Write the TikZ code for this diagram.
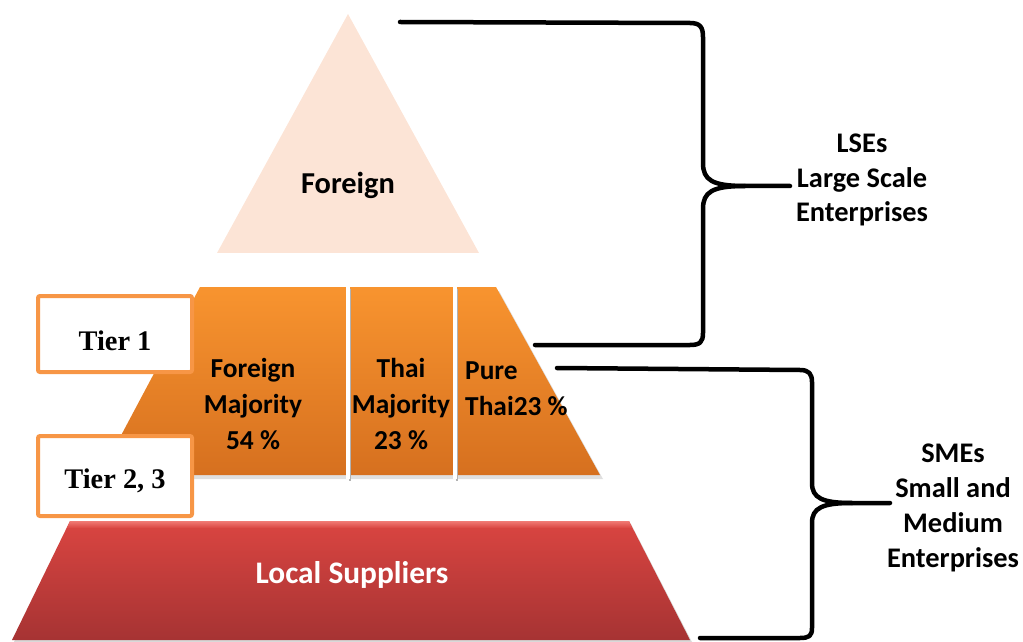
\documentclass[tikz,border=0pt]{standalone}
\usepackage{fontspec}
\newfontfamily\calib{Carlito}
\newfontfamily\timesf{Liberation Serif}
\definecolor{peach}{HTML}{FCE4D6}
\definecolor{orangetop}{HTML}{F8942F}
\definecolor{orangebot}{HTML}{D6701F}
\definecolor{redtop}{HTML}{DA4541}
\definecolor{redbot}{HTML}{A63333}
\definecolor{redhi}{HTML}{F07A74}
\definecolor{tierorange}{HTML}{F79646}
\begin{document}
\begin{tikzpicture}[x=1bp,y=-1bp,
  lbl/.style={font=\calib\bfseries\fontsize{27.5}{36.5}\selectfont, align=center, inner sep=0, text=black},
  sidelbl/.style={font=\calib\bfseries\fontsize{28.5}{35}\selectfont, align=center, inner sep=0, text=black},
  tierbox/.style={draw=tierorange, line width=4bp, fill=white, rounded corners=2bp},
  tiertext/.style={font=\timesf\bfseries\fontsize{28.5}{32}\selectfont, inner sep=0},
  brace/.style={line width=4.5bp, line cap=round, line join=round},
  divider/.style={white, line width=4bp}]
\useasboundingbox (0,0) rectangle (1023,642);

% ---- top level: foreign firms ----
\fill[peach] (348,14) -- (479,253) -- (217,253) -- cycle;
\node[lbl, font=\calib\bfseries\fontsize{30.5}{36}\selectfont] (foreign) at (348,185) {Foreign};

% ---- tier 1 band ----
\fill[gray, opacity=0.25] (203,291) -- (499,291) -- (603,479) -- (103,479) -- cycle;
\shade[top color=orangetop, bottom color=orangebot]
  (200,287) -- (496,287) -- (600,475) -- (100,475) -- cycle;
\draw[gray!60, line width=2bp] (350,289) -- (350,481);
\draw[gray!60, line width=2bp] (457,289) -- (457,481);
\draw[divider] (348,287) -- (348,479);
\draw[divider] (455,287) -- (455,479);
\node[lbl] (fmaj) at (253,404) {Foreign\\Majority\\54 \%};
\node[lbl] (tmaj) at (401,404) {Thai\\Majority\\23 \%};
\node[lbl, align=left, anchor=west] (pthai) at (465,389) {Pure\\Thai23 \%};

% ---- local suppliers band ----
\fill[gray, opacity=0.3] (72,524) -- (631,524) -- (692,642) -- (14,642) -- cycle;
\shade[top color=redtop, bottom color=redbot]
  (70,521) -- (629,521) -- (690,640) -- (12,640) -- cycle;
\shade[top color=redhi, bottom color=redtop]
  (70,521) -- (629,521) -- (632,528) -- (67,528) -- cycle;
\node[lbl, text=white, font=\calib\bfseries\fontsize{31.5}{36}\selectfont] (local) at (352,575) {Local Suppliers};

% ---- tier boxes ----
\draw[tierbox] (38,296) rectangle (192,372);
\node[tiertext] (tier1) at (115,341) {Tier 1};
\draw[tierbox] (38,436) rectangle (192,516);
\node[tiertext] (tier23) at (115,481) {Tier 2, 3};

% ---- braces and their labels ----
\coordinate (lseTop) at (400,22);
\coordinate (lseBot) at (535,345);
\coordinate (lseTip) at (790,186);
\node[sidelbl] (lse) at (862,180) {LSEs\\Large Scale\\Enterprises};
\draw[brace] (lseTop) -- (690,23) .. controls (700,23) and (703,27) .. (703,37)
  -- (703,163) .. controls (703,180) and (712,186) .. (745,186) -- (lseTip);
\draw[brace] (745,186) .. controls (712,186) and (703,192) .. (703,209)
  -- (703,333) .. controls (703,342) and (700,345) .. (690,345) -- (lseBot);

\coordinate (smeTop) at (557,368);
\coordinate (smeBot) at (700,638);
\coordinate (smeTip) at (890,503);
\node[sidelbl] (sme) at (953,508) {SMEs\\Small and\\Medium\\Enterprises};
\draw[brace] (smeTop) -- (800,370) .. controls (809,370) and (812,374) .. (812,382)
  -- (812,483) .. controls (812,498) and (822,503) .. (852,503) -- (smeTip);
\draw[brace] (852,503) .. controls (822,503) and (812,508) .. (812,523)
  -- (812,628) .. controls (812,636) and (809,638) .. (800,638) -- (smeBot);
\end{tikzpicture}
\end{document}
